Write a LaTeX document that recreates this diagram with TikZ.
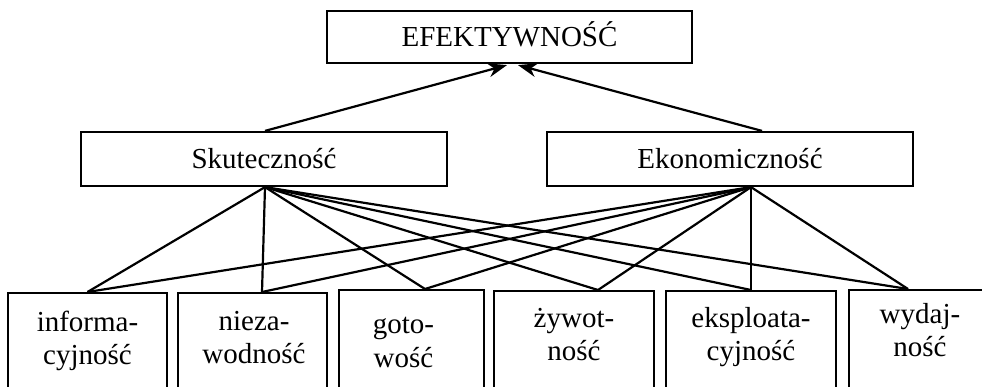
\documentclass[tikz,border=0pt]{standalone}
\usepackage{fontspec}
\setmainfont{Liberation Serif}
\usetikzlibrary{arrows.meta}
\begin{document}
\begin{tikzpicture}[x=1pt,y=-1pt,
  every node/.style={font=\fontsize{29}{33.5}\selectfont},
  frame/.style={draw, line width=2.2pt, rectangle, inner sep=0pt},
  headbox/.style={frame, minimum width=366pt, minimum height=54pt,
                  text height=19.5pt, text depth=0pt},
  leafbox/.style={frame, anchor=north, minimum height=120pt, minimum width=#1},
  leaftext/.style={anchor=north, inner sep=0pt, align=center},
  link/.style={line width=2.2pt},
  up/.style={line width=2.2pt, -{Stealth[length=19pt, width=14pt, inset=6pt]}}]
  \useasboundingbox (0,0) rectangle (982,386);
  \clip (0,0) rectangle (982,386);

  % top level
  \node[headbox, minimum width=365pt, minimum height=52pt] (top) at (509.5,37) {EFEKTYWNOŚĆ};

  % second level
  \node[headbox] (sku) at (264,159) {Skuteczność};
  \node[headbox] (eko) at (730,159) {Ekonomiczność};

  % leaves
  \node[leafbox=159pt] (b1) at (87.5,292) {};
  \node[leafbox=149pt] (b2) at (252.5,292) {};
  \node[leafbox=145pt] (b3) at (411.5,289) {};
  \node[leafbox=160pt] (b4) at (574,290) {};
  \node[leafbox=170pt] (b5) at (751,290) {};
  \node[leafbox=142pt] (b6) at (920,289) {};

  \node[leaftext] (t1) at ([yshift=-15.5pt]b1.north) {\strut informa-\\cyjność};
  \node[leaftext] (t2) at ([xshift=1.5pt,yshift=-14.5pt]b2.north) {\strut nieza-\\wodność};
  \node[leaftext] (t3) at ([xshift=-8pt,yshift=-21pt]b3.north) {\strut goto-\\wość};
  \node[leaftext] (t4) at ([yshift=-13.5pt]b4.north) {\strut żywot-\\ność};
  \node[leaftext] (t5) at ([yshift=-13.5pt]b5.north) {\strut eksploata-\\cyjność};
  \node[leaftext] (t6) at ([yshift=-10.5pt]b6.north) {\strut wydaj-\\ność};

  % attachment points
  \coordinate (sd) at ([xshift=1pt]sku.south);
  \coordinate (ed) at ([xshift=21pt]eko.south);
  \coordinate (p1) at (b1.north);
  \coordinate (p2) at ([xshift=9.5pt]b2.north);
  \coordinate (p3) at ([xshift=13.5pt]b3.north);
  \coordinate (p4) at ([xshift=24pt]b4.north);
  \coordinate (p5) at (b5.north);
  \coordinate (p6) at ([xshift=-12pt]b6.north);

  % arrows to the top
  \draw[up] ([xshift=1pt]sku.north) -- ([xshift=-2.5pt,yshift=-1pt]top.south);
  \draw[up] ([xshift=32pt]eko.north) -- ([xshift=8.5pt,yshift=-1pt]top.south);

  % links to the leaves
  \foreach \p in {p1,p2,p3,p4,p5,p6} {
    \draw[link] (sd) -- (\p);
    \draw[link] (ed) -- (\p);
  }
\end{tikzpicture}
\end{document}
